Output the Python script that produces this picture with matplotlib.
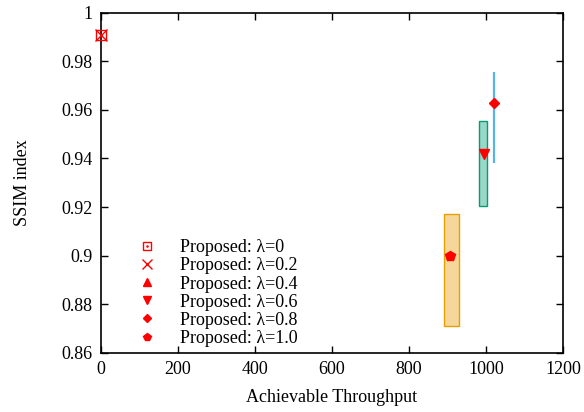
import numpy as np
import matplotlib
matplotlib.use('Agg')
import matplotlib.pyplot as plt
from matplotlib.ticker import FuncFormatter

plt.rcParams['font.family'] = ['Liberation Serif', 'DejaVu Serif']
plt.rcParams['font.size'] = 13

# ranges shown as boxes (throughput, width, SSIM low/high)
box_x = [910, 993, 1021]
box_w = [38, 21, 2]
box_lo = [0.871, 0.9205, 0.938]
box_hi = [0.917, 0.9555, 0.9755]
box_col = ['#E69F00', '#009E73', '#56B4E9']

# proposed scheme points (lambda=0.4 not visible in the plot)
lam_labels = ['0', '0.2', '0.4', '0.6', '0.8', '1.0']
pt_x = [0, 0, np.nan, 994, 1021, 907]
pt_y = [0.991, 0.991, np.nan, 0.942, 0.963, 0.900]
pt_marker = ['s', 'x', '^', 'v', 'D', 'p']
pt_size = [7, 8, 6, 6.5, 5, 7]

fig = plt.figure(figsize=(5.84, 4.12), dpi=100)
ax = fig.add_axes([0.1724, 0.144, 0.7916, 0.825])

for x, w, lo, hi, c in zip(box_x, box_w, box_lo, box_hi, box_col):
    ax.bar(x, hi - lo, width=w, bottom=lo, color=c, alpha=0.4, zorder=2)
    # the narrow one is basically a line
    ax.bar(x, hi - lo, width=w, bottom=lo, fill=False, edgecolor=c,
           linewidth=1.0 if w > 10 else 1.6, zorder=2)

handles = []
for i in range(len(lam_labels)):
    if pt_marker[i] == 's':
        h1, = ax.plot(pt_x[i], pt_y[i], 's', ms=pt_size[i], mfc='none', mec='red', mew=1.0, clip_on=False, zorder=5)
        h2, = ax.plot(pt_x[i], pt_y[i], '.', ms=2, color='red', clip_on=False, zorder=5)
        handles.append((h1, h2))
    elif pt_marker[i] == 'x':
        h, = ax.plot(pt_x[i], pt_y[i], 'x', ms=pt_size[i], color='red', mew=1.0, clip_on=False, zorder=5)
        handles.append(h)
    else:
        h, = ax.plot(pt_x[i], pt_y[i], pt_marker[i], ms=pt_size[i], color='red', mec='red', clip_on=False, zorder=5)
        handles.append(h)

labels = ['Proposed: \u03bb=' + l for l in lam_labels]
ax.legend(handles, labels, loc='lower left', bbox_to_anchor=(0.05, -0.02), frameon=False,
          handlelength=1.2, handletextpad=1.2, labelspacing=0.06, borderaxespad=0.3,
          markerscale=0.85)

ax.set_xlim(0, 1200)
ax.set_ylim(0.86, 1.0)
ax.set_xticks(np.arange(0, 1201, 200))
ax.set_yticks(np.arange(0.86, 1.001, 0.02))
ax.yaxis.set_major_formatter(FuncFormatter(lambda v, p: '%g' % round(v, 2)))
ax.tick_params(direction='in', top=True, right=True, length=5, width=1.0, pad=6)
for s in ax.spines.values():
    s.set_linewidth(1.2)

ax.set_xlabel('Achievable Throughput', labelpad=8)
ax.set_ylabel('SSIM index', labelpad=22)

fig.savefig('out.png', dpi=100)
